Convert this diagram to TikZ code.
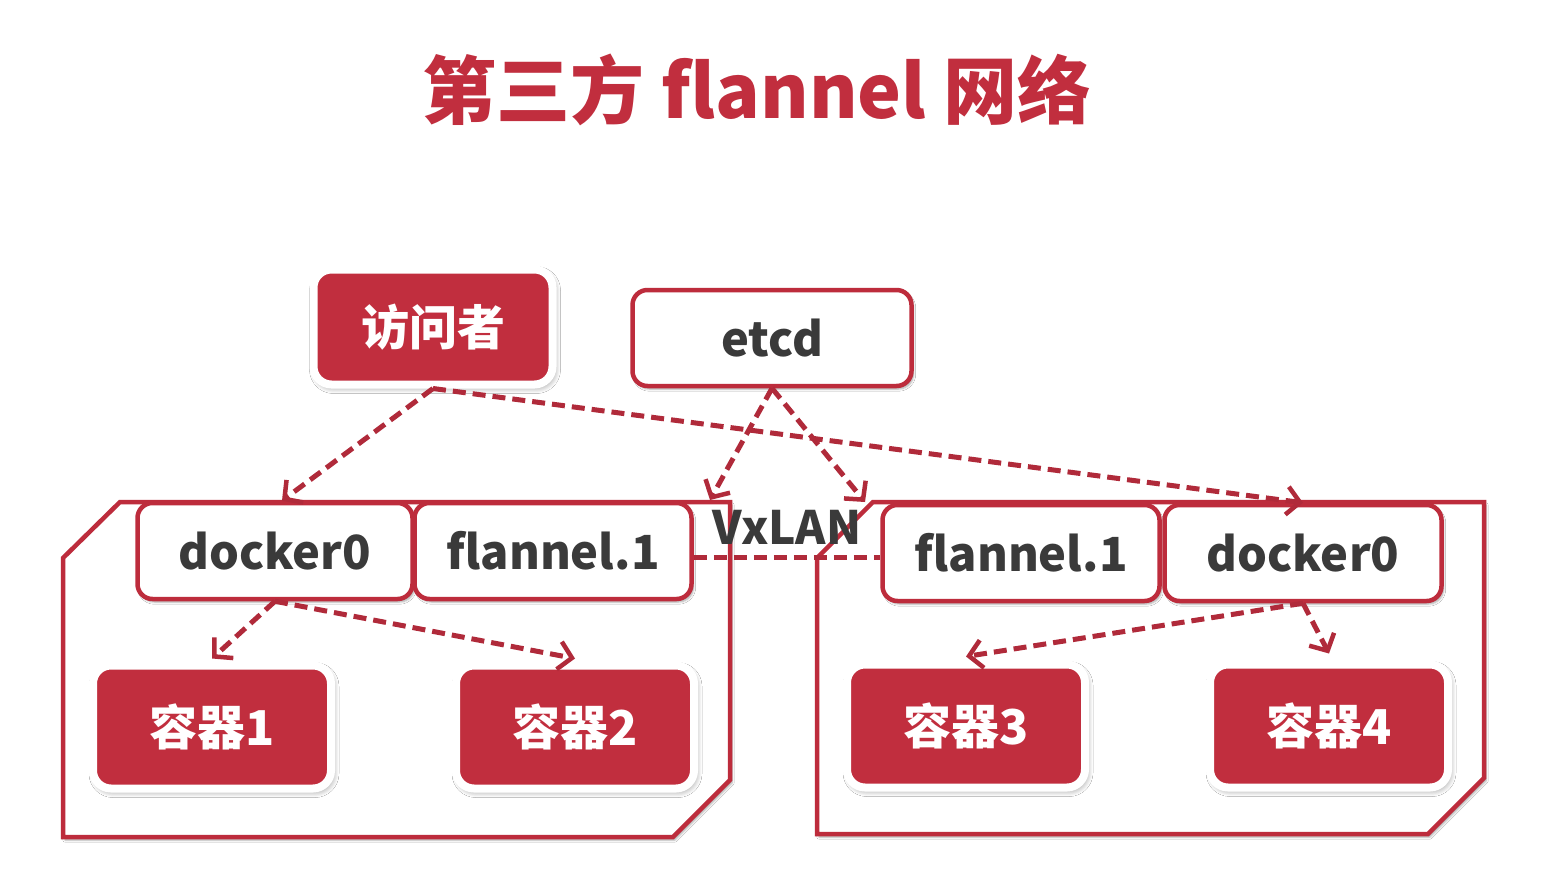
\documentclass[tikz,border=0pt]{standalone}
\usepackage{fontspec}
\setmainfont{Noto Sans CJK SC}
\usetikzlibrary{arrows.meta,shadows.blur}
\definecolor{fillred}{HTML}{C12E3E}
\definecolor{linered}{HTML}{BD2C3C}
\definecolor{arrred}{HTML}{B02A3A}
\definecolor{txtgray}{HTML}{3A3A3A}
\tikzset{
  redbox/.style={draw=white, line width=8pt, fill=fillred, rounded corners=18pt,
    minimum width=238pt, minimum height=123pt, text=white,
    font=\fontsize{48}{56}\selectfont\bfseries,
    blur shadow={shadow xshift=2pt, shadow yshift=-3pt, shadow blur radius=6pt, shadow blur steps=8, shadow opacity=45}},
  whitebox/.style={draw=linered, line width=4.5pt, fill=white, rounded corners=15pt,
    minimum width=275pt, minimum height=96pt, text=txtgray,
    font=\fontsize{47}{56}\selectfont\bfseries,
    blur shadow={shadow xshift=2pt, shadow yshift=-3pt, shadow blur steps=5, shadow opacity=35}},
  hostline/.style={draw=linered, line width=4.5pt, line join=miter,
    blur shadow={shadow xshift=2pt, shadow yshift=-3pt, shadow blur steps=5, shadow opacity=35}},
  flow/.style={draw=arrred, line width=5pt, dash pattern=on 13pt off 7pt,
    -{Straight Barb[length=13pt,width=28pt,line width=4.5pt]}},
  link/.style={draw=arrred, line width=5pt, dash pattern=on 13pt off 7pt}
}
\begin{document}
\begin{tikzpicture}[x=1pt,y=-1pt]
\useasboundingbox (0,0) rectangle (1560,868);
\fill[white] (0,0) rectangle (1560,868);

% title
\node[text=fillred, font=\fontsize{74}{84}\selectfont\bfseries] (title) at (757,90) {第三方 flannel 网络};

% hosts
\path[hostline, fill=white] (63,558) -- (120,502) -- (730,502) -- (730,780) -- (673,837) -- (63,837) -- cycle;
\path[hostline, fill=white] (817,558) -- (873,502) -- (1484,502) -- (1484,778) -- (1428,834) -- (817,834) -- cycle;

\coordinate (tipL) at (710,500);
\coordinate (tipR) at (865,502);

% nodes
\node[redbox, minimum width=239pt, minimum height=115pt] (visitor) at (433,327) {访问者};
\node[whitebox, minimum width=279pt] (etcd) at (772,338) {etcd};
\node[whitebox] (dL) at (275,551) {docker0};
\node[whitebox, minimum width=277pt] (fL) at (553,551) {flannel.1};
\node[whitebox, minimum width=277pt] (fR) at (1021,553) {flannel.1};
\node[whitebox, minimum width=277pt] (dR) at (1303,553) {docker0};
\node[redbox] (c1) at (212,727) {容器1};
\node[redbox] (c2) at (575,727) {容器2};
\node[redbox] (c3) at (966,726) {容器3};
\node[redbox] (c4) at (1329,726) {容器4};

% VxLAN link
\draw[link] ([yshift=-6pt]fL.east) -- ([yshift=-4pt]fR.west);
\node[text=txtgray, font=\fontsize{46}{54}\selectfont\bfseries] (vx) at (787,527) {VxLAN};

% arrows
\draw[flow] (visitor.south) -- ([xshift=7pt]dL.north);
\draw[flow] (visitor.south) -- (dR.north);
\draw[flow] (etcd.south) -- (tipL);
\draw[flow] (etcd.south) -- (tipR);
\draw[flow] (dL.south) -- ([yshift=3pt]c1.north);
\draw[flow] (dL.south) -- ([yshift=3pt]c2.north);
\draw[flow] (dR.south) -- ([yshift=4pt]c3.north);
\draw[flow] (dR.south) -- ([yshift=7pt]c4.north);
\end{tikzpicture}
\end{document}
